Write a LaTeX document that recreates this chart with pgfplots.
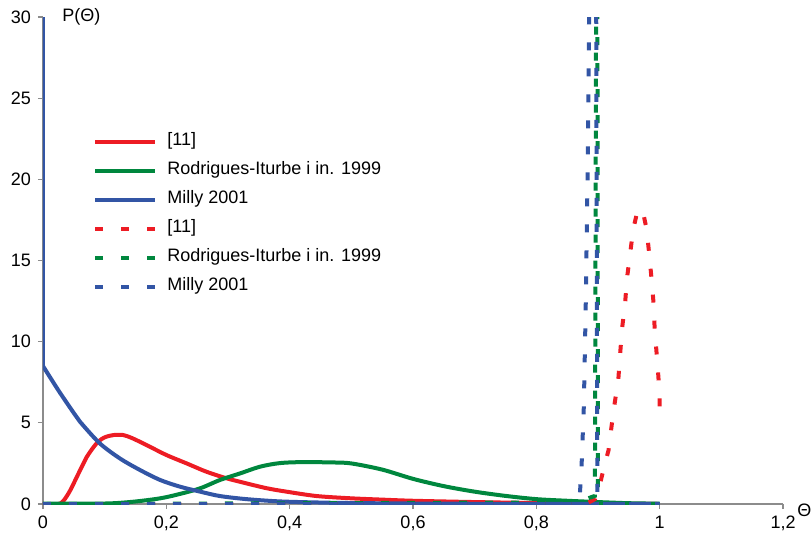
\documentclass[border=0pt]{standalone}
\usepackage{fontspec}
\setmainfont{Liberation Sans}
\usepackage{pgfplots}
\pgfplotsset{compat=1.18}
\definecolor{cred}{RGB}{237,28,36}
\definecolor{cgreen}{RGB}{0,135,62}
\definecolor{cblue}{RGB}{50,85,165}
\definecolor{axgray}{RGB}{140,140,140}

\begin{document}
\begin{tikzpicture}[font=\fontsize{9}{11}\selectfont]
\begin{axis}[
  scale only axis, width=370pt, height=243.5pt,
  xmin=0, xmax=1.2, ymin=0, ymax=30,
  axis x line*=bottom, axis y line*=left,
  axis line style={axgray, line width=0.6pt, -},
  tick style={axgray, line width=0.6pt},
  tick align=outside, major tick length=2.5pt,
  xtick={0,0.2,0.4,0.6,0.8,1,1.2}, ytick={0,5,10,15,20,25,30},
  /pgf/number format/use comma,
  /pgf/number format/assume math mode=true,
  clip mode=individual,
  legend cell align=left,
  legend image code/.code={\draw[#1] (0pt,0pt) -- (30pt,0pt);},
  legend style={draw=none, fill=none, at={(0.0676,0.763)}, anchor=north west,
    inner sep=0pt, row sep=5.5pt, column sep=5pt,
    nodes={inner sep=0pt, text height=6.5pt, text depth=2.5pt}},
]
% solid curves
\addplot[cred, line width=2pt, smooth] coordinates {
(0,0) (0.025,0) (0.032,0.15) (0.038,0.45) (0.045,0.9) (0.055,1.68) (0.063,2.3)
(0.071,2.9) (0.079,3.35) (0.087,3.74) (0.095,4.0) (0.103,4.15) (0.115,4.25)
(0.13,4.25) (0.145,4.05) (0.168,3.63) (0.2,3.02) (0.233,2.5) (0.265,1.99)
(0.298,1.58) (0.33,1.27) (0.363,0.97) (0.395,0.76) (0.444,0.49) (0.5,0.35)
(0.55,0.27) (0.6,0.2) (0.7,0.12) (0.8,0.06) (0.9,0.02) (1.0,0)};
\addlegendentry{[11]}
\addplot[cgreen, line width=2pt, smooth] coordinates {
(0,0.02) (0.1,0.03) (0.146,0.14) (0.19,0.35) (0.222,0.62) (0.255,0.97)
(0.287,1.48) (0.32,1.89) (0.352,2.3) (0.384,2.52) (0.42,2.58) (0.47,2.56)
(0.5,2.5) (0.55,2.12) (0.6,1.55) (0.65,1.1) (0.7,0.76) (0.75,0.5) (0.8,0.3)
(0.85,0.2) (0.9,0.12) (0.95,0.05) (1.0,0.02)};
\addlegendentry{Rodrigues-Iturbe i in. 1999}
\addplot[cblue, line width=2pt, forget plot] coordinates {(0,40) (0,8.5)};
\addplot[cblue, line width=2pt, smooth] coordinates {
(0,8.5) (0.025,7.0) (0.05,5.6) (0.06,5.07) (0.092,3.74) (0.125,2.8) (0.157,2.1)
(0.19,1.48) (0.222,1.07) (0.255,0.76) (0.287,0.49) (0.33,0.3) (0.384,0.16)
(0.45,0.09) (0.5,0.06) (0.6,0.03) (0.7,0.015) (0.8,0.008) (0.9,0.004) (1.0,0.002)};
\addlegendentry{Milly 2001}
% dashed curves
\addplot[cred, line width=2pt, dash pattern=on 4pt off 9pt] coordinates {
(0,0) (0.88,0) (0.895,0.3) (0.903,1.2) (0.91,2.3) (0.917,3.3) (0.922,4.8)
(0.927,6.2) (0.933,7.7) (0.936,9.3) (0.939,10.8) (0.944,12.4) (0.947,13.9)
(0.952,15.4) (0.957,16.9) (0.963,17.9) (0.968,18.2) (0.974,17.8) (0.979,16.9)
(0.983,15.4) (0.987,13.8) (0.99,12.4) (0.992,10.7) (0.995,9.3) (0.998,7.8)
(1.0,6.3) (1.0,5.5)};
\addlegendentry{[11]}
\addplot[cgreen, line width=2pt, dash pattern=on 4pt off 9pt] coordinates {
(0,0) (0.85,0.1) (0.88,0.3) (0.895,0.5) (0.897,32) (0.899,32) (0.9,0) (1,0)};
\addlegendentry{Rodrigues-Iturbe i in. 1999}
\addplot[cblue, line width=2pt, dash pattern=on 4pt off 9pt] coordinates {
(0,0) (0.865,0) (0.87,0.3) (0.873,2) (0.877,6) (0.88,12) (0.883,20) (0.886,32)
(0.897,32) (0.899,0) (1,0)};
\addlegendentry{Milly 2001}
\coordinate (O) at (rel axis cs:0,0);
\node[anchor=west, inner sep=0pt] at ([xshift=9.5pt]rel axis cs:0,1) {P(Θ)};
\node[anchor=west, inner sep=0pt] at ([xshift=7pt,yshift=-3pt]rel axis cs:1,0) {Θ};
\end{axis}
\pgfresetboundingbox
\path[use as bounding box] ([shift={(-21.5pt,-16.5pt)}]O) rectangle ++(406pt,268.5pt);
\end{tikzpicture}
\end{document}
